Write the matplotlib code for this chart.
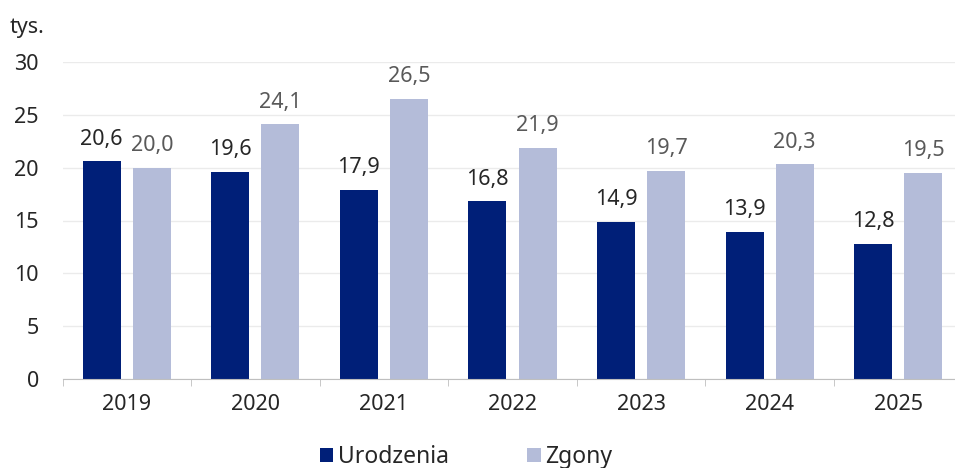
import matplotlib.pyplot as plt
import numpy as np

years = ["2019", "2020", "2021", "2022", "2023", "2024", "2025"]
urodzenia = [20.6, 19.6, 17.9, 16.8, 14.9, 13.9, 12.8]
zgony = [20.0, 24.1, 26.5, 21.9, 19.7, 20.3, 19.5]
yticks = [0, 5, 10, 15, 20, 25, 30]

c_uro = "#001F78"
c_zg = "#B4BCD9"
fs = 15.5

plt.rcParams['font.family'] = ['Noto Sans', 'DejaVu Sans']

fig = plt.figure(figsize=(9.55, 4.68), dpi=100)
ax = fig.add_axes([62.5 / 955, 1 - 379 / 468, 900 / 955, 317 / 468])

x = np.arange(len(years))
w = 0.296
off = 0.195
b1 = ax.bar(x - off, urodzenia, width=w, color=c_uro, label="Urodzenia", zorder=3)
b2 = ax.bar(x + off, zgony, width=w, color=c_zg, label="Zgony", zorder=3)

for rect, v in zip(b1, urodzenia):
    ax.text(rect.get_x() + rect.get_width() / 2, v + 1.1, f"{v:.1f}".replace(".", ","),
            ha="center", va="bottom", fontsize=fs, color="#262626")
for rect, v in zip(b2, zgony):
    ax.text(rect.get_x() + rect.get_width() / 2, v + 1.1, f"{v:.1f}".replace(".", ","),
            ha="center", va="bottom", fontsize=fs, color="#595959")

ax.set_xlim(-0.5, len(years) - 0.5)
ax.set_ylim(0, 30)
ax.set_yticks(yticks)
ax.set_yticklabels([str(t) for t in yticks], fontsize=fs, color="#262626")
ax.yaxis.grid(True, color="#EBEBEB", linewidth=1, zorder=0)
ax.tick_params(axis="y", length=0, pad=17)

ax.set_xticks(x)
ax.set_xticklabels(years, fontsize=fs, color="#262626")
ax.tick_params(axis="x", length=0, pad=11)
ax.set_xticks(np.arange(len(years) + 1) - 0.5, minor=True)
ax.tick_params(axis="x", which="minor", length=5, color="#BFBFBF", direction="out")

for s in ["top", "right", "left"]:
    ax.spines[s].set_visible(False)
ax.spines["bottom"].set_color("#BFBFBF")
ax.spines["bottom"].set_zorder(4)

fig.text(10 / 955, 1 - 28 / 468, "tys.", fontsize=fs, color="#262626", va="center")

fig.legend(handles=[b1, b2], loc="center", bbox_to_anchor=(466 / 955, 1 - 457 / 468),
           ncol=2, frameon=False, fontsize=16.5, handlelength=0.6, handleheight=0.6,
           handletextpad=0.2, columnspacing=3.4, labelcolor="#262626")

fig.savefig("out.png", dpi=100)
